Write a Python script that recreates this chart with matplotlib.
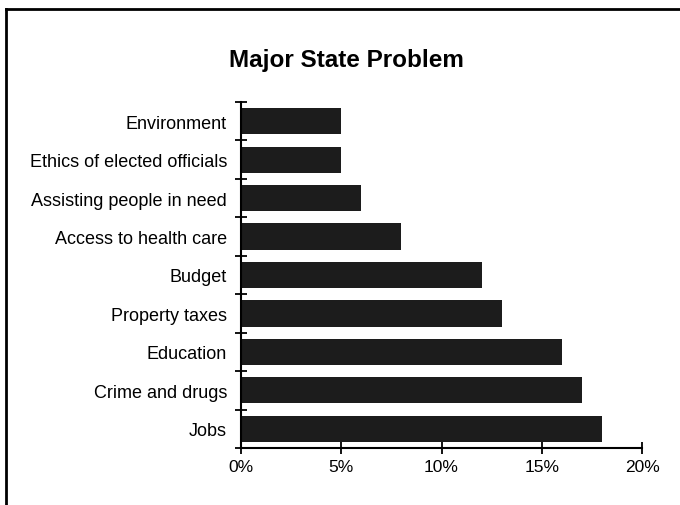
import matplotlib
matplotlib.use("Agg")
import matplotlib.pyplot as plt
from matplotlib.lines import Line2D

categories = ["Jobs", "Crime and drugs", "Education", "Property taxes", "Budget",
              "Access to health care", "Assisting people in need",
              "Ethics of elected officials", "Environment"]
values = [18, 17, 16, 13, 12, 8, 6, 5, 5]
xticks = [0, 5, 10, 15, 20]
xticklabels = ["0%", "5%", "10%", "15%", "20%"]

plt.rcParams['font.family'] = ['Liberation Sans', 'DejaVu Sans']

fig = plt.figure(figsize=(6.8, 5.06), dpi=100)
W, H = 680, 506
ax = fig.add_axes([241 / W, 1 - 449 / H, (642 - 241) / W, (449 - 103) / H])

y = list(range(len(categories)))
ax.barh(y, values, height=0.68, color='#1c1c1c', edgecolor='none')
ax.set_ylim(-0.5, len(categories) - 0.5)
ax.set_xlim(0, 20)

for s in ['top', 'right']:
    ax.spines[s].set_visible(False)
for s in ['left', 'bottom']:
    ax.spines[s].set_linewidth(1.5)
    ax.spines[s].set_color('black')

ax.set_xticks(xticks)
ax.set_xticklabels(xticklabels, fontsize=12.5)
ax.set_yticks(y)
ax.set_yticklabels(categories, fontsize=13)
ax.tick_params(axis='y', length=0, pad=10)
ax.tick_params(axis='x', direction='inout', length=8, width=1.3, pad=4)

# minor ticks at category boundaries on y axis
ax.set_yticks([i + 0.5 for i in range(-1, len(categories))], minor=True)
ax.tick_params(axis='y', which='minor', direction='inout', length=8, width=1.3)

fig.text(346 / W, 1 - 61 / H, "Major State Problem", ha='center', va='center',
         fontsize=17.5, fontweight='bold')

# frame lines (left and top)
fig.add_artist(Line2D([6 / W, 6 / W], [0, 1 - 10 / H], transform=fig.transFigure,
                      color='black', linewidth=2))
fig.add_artist(Line2D([6 / W, 1], [1 - 10 / H, 1 - 10 / H], transform=fig.transFigure,
                      color='black', linewidth=2))

fig.savefig("out.png", dpi=100)
